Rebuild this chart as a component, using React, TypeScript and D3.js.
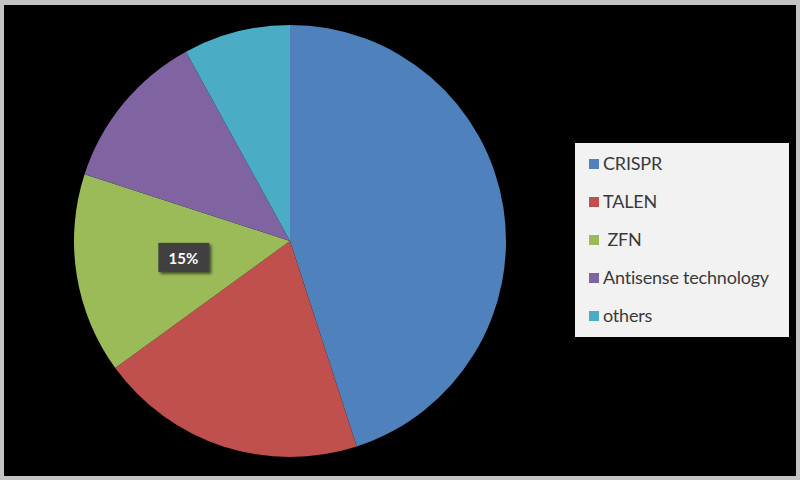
import React from "react";
import * as d3 from "d3";

const categories = ["CRISPR", "TALEN", "ZFN", "Antisense technology", "others"];
const values = [45, 20, 15, 12, 8];
const colors = ["#4F81BD", "#C0504D", "#9BBB59", "#8064A2", "#4BACC6"];
const legendLabels = ["CRISPR", "TALEN", " ZFN", "Antisense technology", "others"];
const shownLabel = { index: 2, text: "15%" };

export default function App() {
  const W = 800, H = 480;
  const cx = 290, cy = 241, r = 216;
  const pie = d3.pie<number>().sort(null).value((d) => d)(values);
  const arc = d3.arc<d3.PieArcDatum<number>>().innerRadius(0).outerRadius(r);
  const lab = pie[shownLabel.index];
  const labelArc = d3.arc<d3.PieArcDatum<number>>().innerRadius(r * 0.5).outerRadius(r * 0.5);
  const [lx, ly] = labelArc.centroid(lab);
  const legendY = d3.scaleBand().domain(legendLabels).range([145, 335]);
  return (
    <svg width={W} height={H} style={{ position: "absolute", left: 0, top: 0, display: "block" }}>
      <defs>
        <filter id="sh" x="-20%" y="-20%" width="150%" height="150%">
          <feDropShadow dx="2" dy="2" stdDeviation="1.5" floodColor="#000" floodOpacity="0.6" />
        </filter>
      </defs>
      <rect x={0} y={0} width={W} height={H} fill="#c3c3c3" />
      <rect x={4} y={5} width={792} height={471} fill="#000" />
      <g transform={`translate(${cx},${cy})`}>
        {pie.map((p, i) => (
          <path key={categories[i]} d={arc(p) || ""} fill={colors[i]} />
        ))}
        <g transform={`translate(${lx},${ly})`}>
          <rect x={-25} y={-15} width={51} height={29} fill="#404040" filter="url(#sh)" />
          <text x={0} y={6} textAnchor="middle" fill="#fff" fontFamily="Lato, 'Open Sans', sans-serif" fontWeight="bold" fontSize={15}>
            {shownLabel.text}
          </text>
        </g>
      </g>
      <rect x={575} y={143} width={214} height={194} fill="#f2f2f2" />
      {legendLabels.map((l, i) => {
        const y = (legendY(l) || 0) + legendY.bandwidth() / 2;
        return (
          <g key={l}>
            <rect x={589} y={y - 5} width={10} height={10} fill={colors[i]} />
            <text x={603} y={y + 6} fill="#3a3a3a" fontFamily="Lato, 'Open Sans', sans-serif" fontSize={18} letterSpacing={-0.2} style={{ whiteSpace: "pre" }}>
              {l}
            </text>
          </g>
        );
      })}
    </svg>
  );
}
